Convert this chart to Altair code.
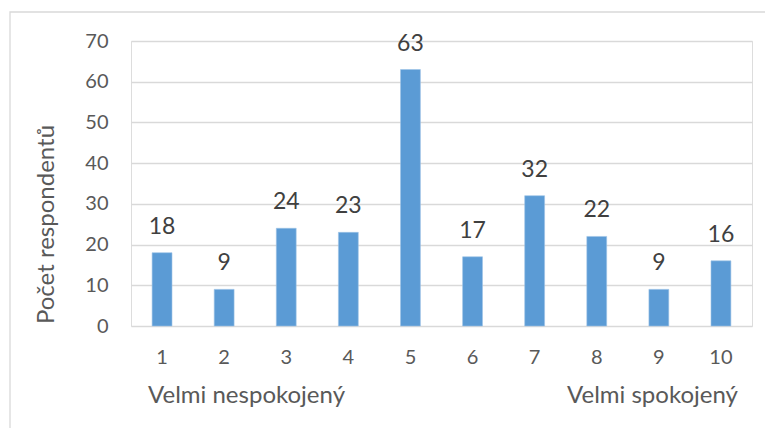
import altair as alt
import pandas as pd

categories = ["1", "2", "3", "4", "5", "6", "7", "8", "9", "10"]
values = [18, 9, 24, 23, 63, 17, 32, 22, 9, 16]
end_labels = ["Velmi nespokojený", "Velmi spokojený"]
end_cats = ["1", "10"]

df = pd.DataFrame({"cat": categories, "val": values})
df_left = pd.DataFrame({"cat": [end_cats[0]], "txt": [end_labels[0]]})
df_right = pd.DataFrame({"cat": [end_cats[1]], "txt": [end_labels[1]]})
df_frame = pd.DataFrame({"k": [0]})

FONT = "Lato"
GREY = "#595959"

x_enc = alt.X("cat:N", sort=categories, title=None,
              scale=alt.Scale(paddingInner=0.68, paddingOuter=0.34),
              axis=alt.Axis(labelAngle=0, labelFontSize=20, labelColor=GREY, labelFont=FONT,
                            ticks=False, domain=False, labelPadding=21))
y_enc = alt.Y("val:Q", scale=alt.Scale(domain=[0, 70]),
              axis=alt.Axis(values=[0, 10, 20, 30, 40, 50, 60, 70], title="Počet respondentů",
                            labelFontSize=20, labelColor=GREY, labelFont=FONT,
                            ticks=False, domain=False, labelPadding=23,
                            gridColor="#d9d9d9", gridWidth=1.3,
                            titleFontSize=24, titleColor=GREY, titleFont=FONT, titleFontWeight="normal",
                            titleX=-85, titleY=183, titleAngle=-90,
                            titleAlign="center", titleBaseline="middle"))

frame = alt.Chart(df_frame).mark_rect(fill=None, stroke="#d9d9d9", strokeWidth=1.3).encode(
    x=alt.value(-121), x2=alt.value(700), y=alt.value(-29), y2=alt.value(500))

bars = alt.Chart(df).mark_bar(color="#5B9BD5", stroke="#9dc3e6", strokeWidth=0.6).encode(
    x=x_enc, y=y_enc)

labels = alt.Chart(df).mark_text(font=FONT, fontSize=23, color="#404040",
                                 baseline="alphabetic", dy=-19).encode(
    x=alt.X("cat:N", sort=categories), y="val:Q", text="val:Q")

left = alt.Chart(df_left).mark_text(font=FONT, fontSize=24, color=GREY, align="left",
                                    baseline="alphabetic", dx=-14).encode(
    x=alt.X("cat:N", sort=categories), y=alt.value(362), text="txt:N")
right = alt.Chart(df_right).mark_text(font=FONT, fontSize=24, color=GREY, align="right",
                                      baseline="alphabetic", dx=17).encode(
    x=alt.X("cat:N", sort=categories), y=alt.value(362), text="txt:N")

chart = alt.layer(frame, bars, labels, left, right).properties(
    width=621, height=285,
    autosize=alt.AutoSizeParams(type="none"),
    padding={"left": 123, "top": 33, "right": 13, "bottom": 102},
).configure_view(stroke=None).configure(background="white")

chart.save("out.html", embed_options={"renderer": "svg", "actions": False})
